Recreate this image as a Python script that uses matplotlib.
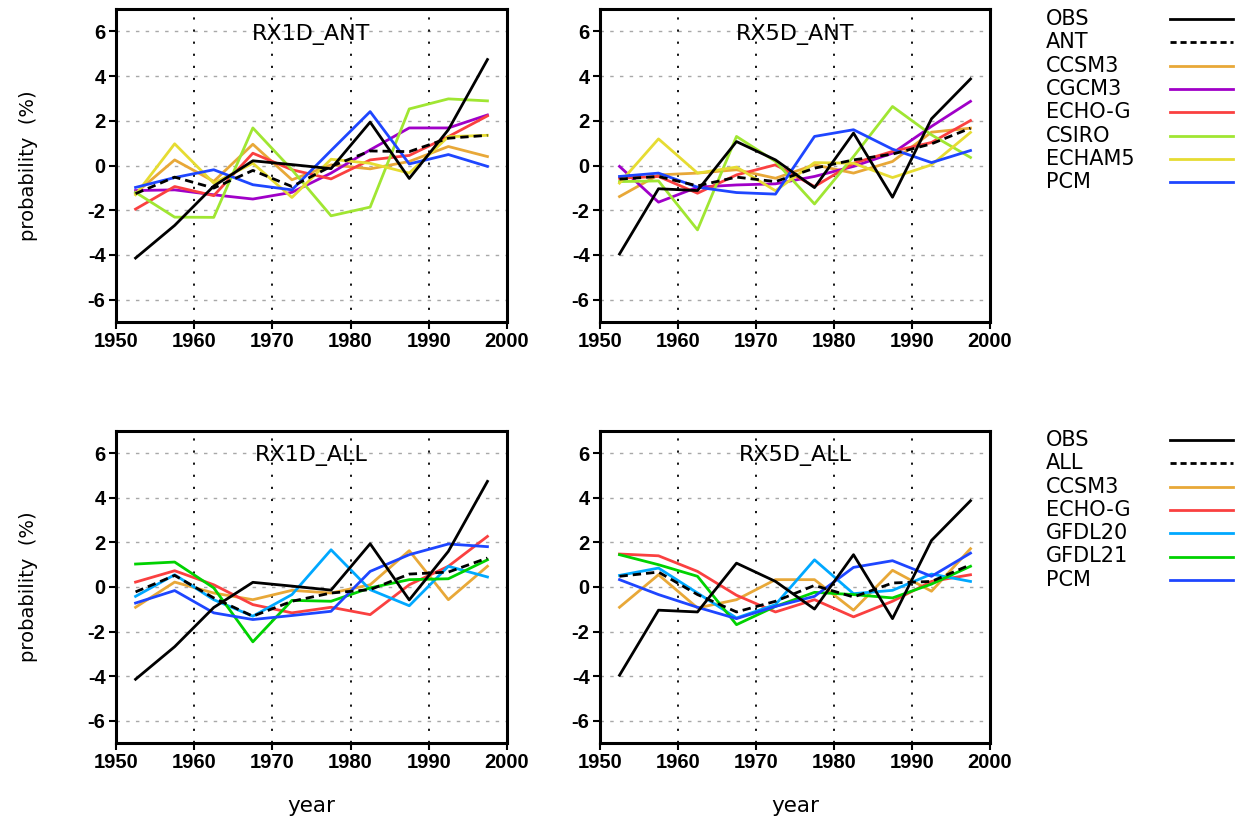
"""
Extreme precipitation probability anomalies (RX1D / RX5D), ANT and ALL forcing.
Four panels plus two hand-placed legends on the right.
"""

import numpy as np
import matplotlib.pyplot as plt
from matplotlib.lines import Line2D

plt.rcParams["font.family"] = ["DejaVu Sans"]
plt.rcParams["axes.unicode_minus"] = False

# 5-year bin centres
YEARS = [1952.5, 1957.5, 1962.5, 1967.5, 1972.5, 1977.5, 1982.5, 1987.5, 1992.5, 1997.5]

# observations (same in ANT and ALL panels)
OBS_RX1D = [-4.14, -2.68, -0.92, 0.21, 0.04, -0.14, 1.94, -0.58, 1.60, 4.74]
OBS_RX5D = [-3.96, -1.04, -1.12, 1.07, 0.25, -0.99, 1.45, -1.42, 2.09, 3.87]

# RX1D_ANT
ANT1_MEAN = [-1.26, -0.52, -1.01, -0.22, -0.94, -0.04, 0.65, 0.62, 1.22, 1.35]
ANT1_CCSM3 = [-1.24, 0.25, -0.71, 0.95, -0.64, 0.03, -0.15, 0.18, 0.85, 0.40]
ANT1_CGCM3 = [-1.12, -1.09, -1.31, -1.50, -1.20, -0.34, 0.70, 1.68, 1.68, 2.26]
ANT1_ECHOG = [-1.95, -0.94, -1.35, 0.55, -0.19, -0.60, 0.25, 0.45, 1.29, 2.22]
ANT1_CSIRO = [-1.20, -2.31, -2.32, 1.68, -0.19, -2.25, -1.86, 2.53, 2.98, 2.89]
ANT1_ECHAM5 = [-1.31, 0.97, -0.79, 0.10, -1.43, 0.28, 0.10, -0.34, 1.29, 1.35]
ANT1_PCM = [-0.98, -0.54, -0.19, -0.86, -1.09, 0.67, 2.41, 0.07, 0.49, -0.04]

# RX5D_ANT
ANT5_MEAN = [-0.61, -0.49, -0.91, -0.52, -0.72, -0.12, 0.25, 0.51, 0.97, 1.67]
ANT5_CCSM3 = [-1.39, -0.42, -0.34, -0.19, -0.57, 0.03, -0.34, 0.18, 1.49, 1.67]
ANT5_CGCM3 = [-0.04, -1.64, -0.97, -0.87, -0.82, -0.49, -0.04, 0.55, 1.75, 2.87]
ANT5_ECHOG = [-0.57, -0.49, -1.24, -0.42, 0.03, -0.94, 0.10, 0.63, 1.03, 2.01]
ANT5_CSIRO = [-0.72, -0.69, -2.88, 1.30, 0.18, -1.72, 0.40, 2.64, 1.37, 0.36]
ANT5_ECHAM5 = [-0.79, 1.19, -0.34, -0.07, -1.13, 0.13, 0.10, -0.54, 0.03, 1.48]
ANT5_PCM = [-0.49, -0.34, -0.97, -1.21, -1.28, 1.30, 1.60, 0.73, 0.13, 0.67]

# RX1D_ALL
ALL1_MEAN = [-0.22, 0.52, -0.49, -1.31, -0.64, -0.27, -0.12, 0.58, 0.67, 1.30]
ALL1_CCSM3 = [-0.91, 0.22, -0.27, -0.57, -0.15, -0.27, 0.10, 1.63, -0.57, 0.93]
ALL1_ECHOG = [0.22, 0.73, 0.10, -0.79, -1.16, -0.91, -1.24, 0.10, 0.93, 2.27]
ALL1_GFDL20 = [-0.42, 0.55, -0.57, -1.31, -0.34, 1.67, -0.12, -0.84, 0.93, 0.45]
ALL1_GFDL21 = [1.03, 1.12, -0.04, -2.46, -0.60, -0.64, -0.04, 0.33, 0.37, 1.22]
ALL1_PCM = [-0.72, -0.16, -1.16, -1.46, -1.28, -1.09, 0.70, 1.45, 1.93, 1.81]

# RX5D_ALL
ALL5_MEAN = [0.48, 0.67, -0.34, -1.12, -0.64, 0.07, -0.45, 0.18, 0.25, 1.00]
ALL5_CCSM3 = [-0.91, 0.55, -0.94, -0.57, 0.33, 0.33, -1.04, 0.75, -0.19, 1.72]
ALL5_ECHOG = [1.48, 1.40, 0.70, -0.37, -1.12, -0.57, -1.34, -0.64, 0.25, 0.55]
ALL5_GFDL20 = [0.52, 0.85, -0.27, -1.39, -0.79, 1.22, -0.30, -0.15, 0.58, 0.25]
ALL5_GFDL21 = [1.45, 1.00, 0.48, -1.69, -0.87, -0.24, -0.34, -0.49, 0.13, 0.93]
ALL5_PCM = [0.33, -0.34, -0.91, -1.42, -0.87, -0.42, 0.88, 1.18, 0.48, 1.52]

ANT_NAMES = ["OBS", "ANT", "CCSM3", "CGCM3", "ECHO-G", "CSIRO", "ECHAM5", "PCM"]
ALL_NAMES = ["OBS", "ALL", "CCSM3", "ECHO-G", "GFDL20", "GFDL21", "PCM"]

COLORS = {
    "OBS": "black", "ANT": "black", "ALL": "black",
    "CCSM3": "#e8a838", "CGCM3": "#a000c8", "ECHO-G": "#fa4040",
    "CSIRO": "#a0e632", "ECHAM5": "#e6dc32", "PCM": "#1e46ff",
    "GFDL20": "#00a8ff", "GFDL21": "#00d200",
}

TICK_FONT = ["Liberation Sans Narrow", "Liberation Sans", "DejaVu Sans"]

W, H = 1241, 823


def px_axes(fig, left, right, top, bottom):
    """Add axes from pixel box (origin top-left)."""
    return fig.add_axes([left / W, 1 - bottom / H, (right - left) / W, (bottom - top) / H])


def draw_panel(ax, title, names, series, ylabel=False, xlabel=False):
    for v in [-6, -4, -2, 0, 2, 4, 6]:
        ax.axhline(v, color="#a8a8a8", lw=1.0, ls=(0, (2.5, 4.5)), zorder=1)
    for yr in [1960, 1970, 1980, 1990]:
        ax.axvline(yr, color="black", lw=1.3, ls=(0, (1.2, 5.5)), zorder=1)

    # draw models first, then ensemble mean and obs on top
    order = list(range(2, len(names))) + [1, 0]
    for i in order:
        name = names[i]
        ls = (0, (3, 1.8)) if i == 1 else "-"
        ax.plot(YEARS, series[i], color=COLORS[name], lw=2.0, ls=ls, zorder=3)

    ax.set_xlim(1950, 2000)
    ax.set_ylim(-7, 7)
    ax.set_xticks([1950, 1960, 1970, 1980, 1990, 2000])
    ax.set_yticks([-6, -4, -2, 0, 2, 4, 6])
    ax.tick_params(direction="out", length=5, width=1.5, pad=2.5)
    for lab in ax.get_xticklabels() + ax.get_yticklabels():
        lab.set_family(TICK_FONT)
        lab.set_fontweight("bold")
        lab.set_fontsize(14.5)
    for s in ax.spines.values():
        s.set_linewidth(2.2)
    ax.text(0.5, 0.92, title, transform=ax.transAxes, ha="center", va="center", fontsize=16)
    if ylabel:
        ax.set_ylabel("probability  (%)", fontsize=14, labelpad=36)
    if xlabel:
        ax.set_xlabel("year", fontsize=15.5, labelpad=17)


def draw_legend(fig, names, top_y):
    lax = px_axes(fig, 1010, 1241, 0, H)
    lax.set_xlim(1010, 1241)
    lax.set_ylim(H, 0)
    lax.axis("off")
    for i, name in enumerate(names):
        y = top_y + i * 23.3
        lax.text(1046, y, name, fontsize=15, va="center", ha="left")
        ls = (0, (2.2, 1.4)) if i == 1 else "-"
        lax.add_line(Line2D([1170, 1233], [y, y], color=COLORS[name], lw=2.0, ls=ls))


def main():
    fig = plt.figure(figsize=(W / 100, H / 100), dpi=100)

    ax1 = px_axes(fig, 116, 507, 9, 322)
    draw_panel(ax1, "RX1D_ANT", ANT_NAMES,
               [OBS_RX1D, ANT1_MEAN, ANT1_CCSM3, ANT1_CGCM3, ANT1_ECHOG,
                ANT1_CSIRO, ANT1_ECHAM5, ANT1_PCM], ylabel=True)

    ax2 = px_axes(fig, 600, 990, 9, 322)
    draw_panel(ax2, "RX5D_ANT", ANT_NAMES,
               [OBS_RX5D, ANT5_MEAN, ANT5_CCSM3, ANT5_CGCM3, ANT5_ECHOG,
                ANT5_CSIRO, ANT5_ECHAM5, ANT5_PCM])

    ax3 = px_axes(fig, 116, 507, 431, 743)
    draw_panel(ax3, "RX1D_ALL", ALL_NAMES,
               [OBS_RX1D, ALL1_MEAN, ALL1_CCSM3, ALL1_ECHOG, ALL1_GFDL20,
                ALL1_GFDL21, ALL1_PCM], ylabel=True, xlabel=True)

    ax4 = px_axes(fig, 600, 990, 431, 743)
    draw_panel(ax4, "RX5D_ALL", ALL_NAMES,
               [OBS_RX5D, ALL5_MEAN, ALL5_CCSM3, ALL5_ECHOG, ALL5_GFDL20,
                ALL5_GFDL21, ALL5_PCM], xlabel=True)

    draw_legend(fig, ANT_NAMES, 19)
    draw_legend(fig, ALL_NAMES, 440)

    fig.savefig("out.png", dpi=100)
    plt.close(fig)


if __name__ == "__main__":
    main()
